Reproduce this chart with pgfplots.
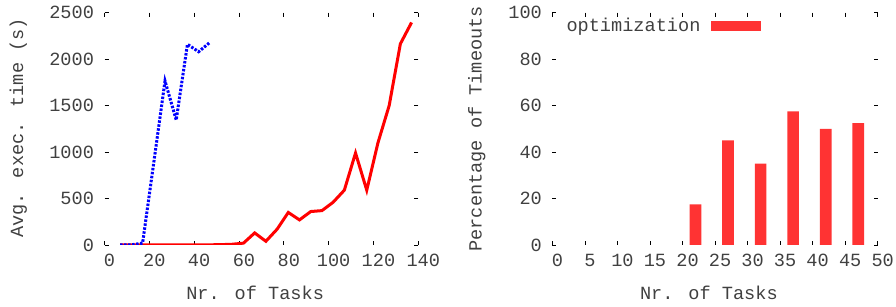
\documentclass[border=0pt]{standalone}
\usepackage{fontspec}
\setmainfont{Liberation Mono}
\usepackage{pgfplots}
\pgfplotsset{compat=1.18}
\definecolor{txt}{RGB}{64,64,64}
\definecolor{barred}{RGB}{255,51,51}
\begin{document}
\begin{tikzpicture}
\useasboundingbox (0pt,0pt) rectangle (896pt,307pt);
\pgfplotsset{
  every axis/.append style={
    scale only axis,
    axis line style={draw=none},
    tick align=inside,
    major tick length=4pt,
    tick style={black, line width=0.8pt},
    font=\fontsize{18.6}{20}\selectfont\color{txt},
    /pgf/number format/assume math mode=true,
    /pgf/number format/1000 sep={},
    xticklabel style={xshift=5pt, yshift=-6pt},
    yticklabel style={xshift=-7pt},
  }
}
\begin{axis}[
  at={(104.5pt,62pt)}, anchor=south west,
  width=313.8pt, height=232.3pt,
  xmin=0, xmax=140, ymin=0, ymax=2500,
  xtick={0,20,...,140}, ytick={0,500,...,2500},
  xlabel={Nr. of Tasks}, ylabel={Avg. exec. time (s)},
  xlabel style={at={(axis description cs:0.48,0)}, anchor=center, yshift=-48pt},
  ylabel style={at={(axis description cs:-0.2747,0.504)}, anchor=center},
]
\addplot[color=red, line width=3pt, line join=miter] coordinates {
(7,0) (12,0) (17,0) (22,0) (27,0) (32,0) (37,0) (42,1) (47,2) (52,4) (57,8) (62,20)
(67,130) (72,40) (77,170) (82,350) (87,270) (92,360) (97,370) (102,460) (107,590)
(112,990) (117,590) (122,1100) (127,1500) (132,2165) (137,2395)
};
\addplot[color=blue, line width=3pt, dash pattern=on 2.5pt off 1.5pt] coordinates {
(7,0) (12,2) (17,20) (22,890) (27,1765) (32,1345) (37,2160) (42,2080) (47,2180)
};
\end{axis}
\begin{axis}[
  at={(552.4pt,62pt)}, anchor=south west,
  width=325.3pt, height=232.3pt,
  xmin=0, xmax=50, ymin=0, ymax=100,
  xtick={0,5,...,50}, ytick={0,20,...,100},
  xlabel={Nr. of Tasks}, ylabel={Percentage of Timeouts},
  xlabel style={at={(axis description cs:0.481,0)}, anchor=center, yshift=-48pt},
  ylabel style={at={(axis description cs:-0.2327,0.5)}, anchor=center},
  legend plot pos=right,
  legend style={at={(axis description cs:0.0366,0.9427)}, anchor=west, draw=none, fill=none,
    inner sep=0pt, font=\fontsize{18.6}{20}\selectfont\color{txt}},
  legend image code/.code={\path (0pt,0pt); \fill[barred] (9pt,-5pt) rectangle (59pt,5pt);},
]
\addplot[ybar, bar width=11.7pt, fill=barred, draw=none] coordinates {
(22,17.5) (27,45) (32,35) (37,57.5) (42,50) (47,52.5)
};
\addlegendentry{optimization}
\end{axis}
\end{tikzpicture}
\end{document}
